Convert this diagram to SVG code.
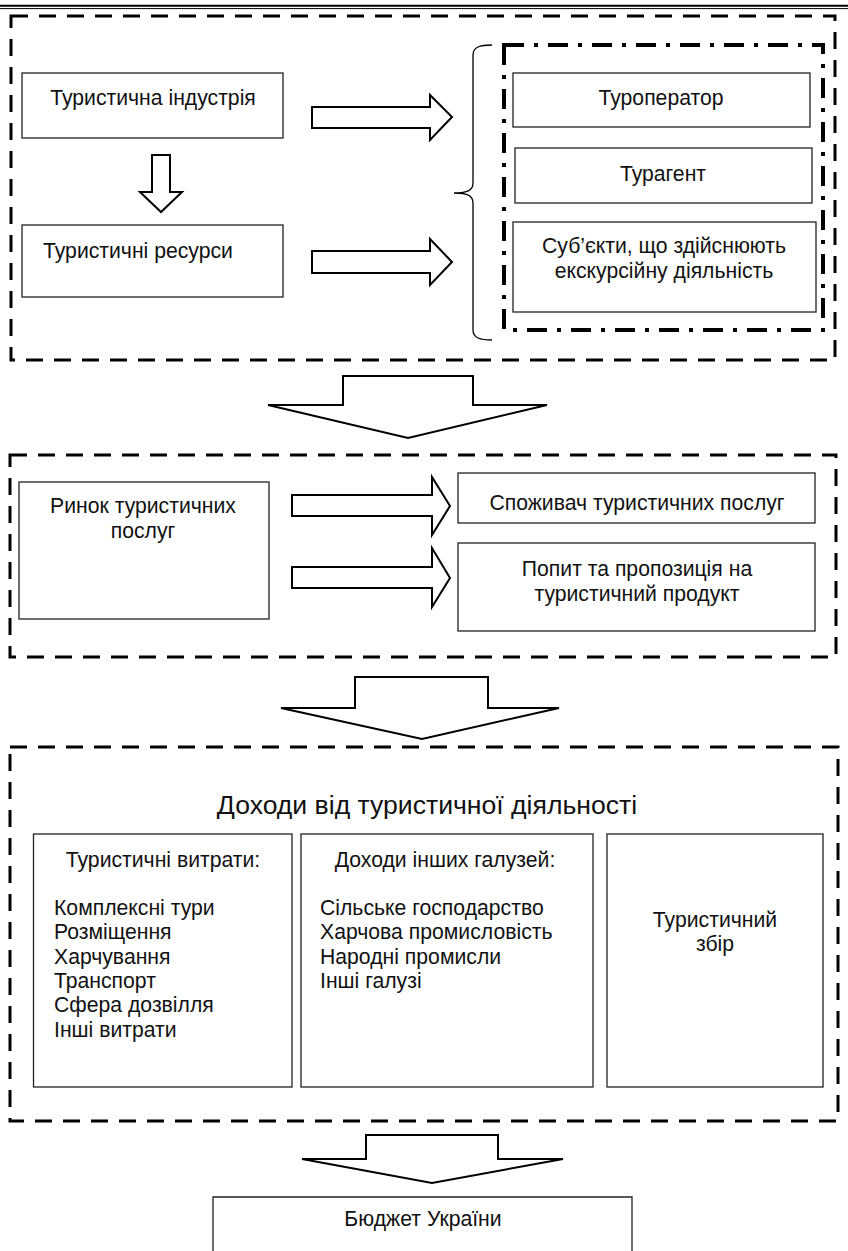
<svg xmlns="http://www.w3.org/2000/svg" width="848" height="1251" viewBox="0 0 848 1251">
  <defs>
    <style>
      .bg { fill: #ffffff; }
      .box { fill: #ffffff; stroke: #222222; stroke-width: 1.3; }
      .frame { fill: none; stroke: #000000; stroke-width: 3; stroke-dasharray: 17 11; }
      .dashdot { fill: none; stroke: #000000; stroke-width: 4; stroke-dasharray: 20 10 4 10; }
      .arrow { fill: #ffffff; stroke: #000000; stroke-width: 2; stroke-linejoin: miter; }
      .brace { fill: none; stroke: #000000; stroke-width: 1.3; }
      .rule { stroke: #000000; }
      text { font-family: "Liberation Sans", Arial, sans-serif; fill: #111111; font-size: 21.2px; }
      .c { text-anchor: middle; }
      .title { font-size: 26.6px; }
    </style>
  </defs>

  <rect class="bg" x="0" y="0" width="848" height="1251"/>

  <!-- page header rule -->
  <g id="header">
    <line class="rule" x1="0" y1="5.7" x2="848" y2="5.7" stroke-width="2"/>
    <line class="rule" x1="0" y1="8.6" x2="848" y2="8.6" stroke-width="1"/>
  </g>

  <!-- group frames -->
  <g id="frames">
    <rect class="frame" x="11" y="16" width="824" height="344"/>
    <rect class="frame" x="10" y="455" width="826" height="202"/>
    <rect class="frame" x="10" y="747" width="828" height="374"/>
  </g>

  <!-- block 1: industry and resources -->
  <g id="industry">
    <rect class="box" x="22" y="73" width="261" height="65"/>
    <text class="c" x="153" y="105">Туристична індустрія</text>
  </g>
  <g id="resources">
    <rect class="box" x="22" y="225" width="261" height="72"/>
    <text x="43" y="258">Туристичні ресурси</text>
  </g>

  <g id="actors">
    <rect class="dashdot" x="504" y="45" width="319" height="285"/>
    <path class="brace" d="M492,45 C480,45 473,47 473,55 L473,183 C473,190 468,193 454,193 C468,193 473,196 473,203 L473,330 C473,338 480,340 492,340"/>
  </g>
  <g id="touroperator">
    <rect class="box" x="513" y="73" width="297" height="54"/>
    <text class="c" x="661" y="105">Туроператор</text>
  </g>
  <g id="travelagent">
    <rect class="box" x="515" y="148" width="297" height="55"/>
    <text class="c" x="663" y="181">Турагент</text>
  </g>
  <g id="excursion">
    <rect class="box" x="513" y="222" width="303" height="90"/>
    <text class="c" x="664" y="253">Суб’єкти, що здійснюють</text>
    <text class="c" x="664" y="278">екскурсійну діяльність</text>
  </g>

  <!-- block 2: market -->
  <g id="market">
    <rect class="box" x="19" y="482" width="250" height="137"/>
    <text class="c" x="143" y="513">Ринок туристичних</text>
    <text class="c" x="143" y="538">послуг</text>
  </g>
  <g id="consumer">
    <rect class="box" x="458" y="473" width="357" height="50"/>
    <text class="c" x="637" y="510">Споживач туристичних послуг</text>
  </g>
  <g id="demand">
    <rect class="box" x="458" y="543" width="357" height="88"/>
    <text class="c" x="637" y="576">Попит та пропозиція на</text>
    <text class="c" x="637" y="601">туристичний продукт</text>
  </g>

  <!-- block 3: income -->
  <g id="income">
    <text class="c title" x="427" y="814">Доходи від туристичної діяльності</text>
  </g>
  <g id="expenses">
    <rect class="box" x="33.5" y="834" width="258.5" height="253"/>
    <text class="c" x="163" y="867">Туристичні витрати:</text>
    <text x="54" y="915">Комплексні тури</text>
    <text x="54" y="939">Розміщення</text>
    <text x="54" y="964">Харчування</text>
    <text x="54" y="988">Транспорт</text>
    <text x="54" y="1012">Сфера дозвілля</text>
    <text x="54" y="1037">Інші витрати</text>
  </g>
  <g id="otherbranches">
    <rect class="box" x="301" y="834" width="292" height="253"/>
    <text class="c" x="445" y="867">Доходи інших галузей:</text>
    <text x="320" y="915">Сільське господарство</text>
    <text x="320" y="939">Харчова промисловість</text>
    <text x="320" y="964">Народні промисли</text>
    <text x="320" y="988">Інші галузі</text>
  </g>
  <g id="levy">
    <rect class="box" x="607" y="834" width="216" height="253"/>
    <text class="c" x="715" y="927">Туристичний</text>
    <text class="c" x="715" y="951">збір</text>
  </g>

  <!-- budget -->
  <g id="budget">
    <path class="box" d="M213,1251 L213,1197 L632,1197 L632,1251"/>
    <text class="c" x="423" y="1226">Бюджет України</text>
  </g>

  <!-- block arrows -->
  <g id="connectors">
    <path class="arrow" d="M152,155 L170,155 L170,192 L182,192 L161,212 L140,192 L152,192 Z"/>
    <path class="arrow" d="M312,107 L430,107 L430,95 L452,117 L430,140 L430,128 L312,128 Z"/>
    <path class="arrow" d="M312,251 L430,251 L430,239 L452,262 L430,285 L430,273 L312,273 Z"/>
    <path class="arrow" d="M343,376 L473,376 L473,405 L547,405 L408,438 L268,405 L343,405 Z"/>
    <path class="arrow" d="M292,495 L432,495 L432,477 L450,506 L432,535 L432,516 L292,516 Z"/>
    <path class="arrow" d="M292,567 L432,567 L432,548 L450,578 L432,607 L432,588 L292,588 Z"/>
    <path class="arrow" d="M355,677 L488,677 L488,708 L559,708 L422,739 L281,708 L355,708 Z"/>
    <path class="arrow" d="M366,1135 L498,1135 L498,1159 L563,1159 L432,1183 L302,1159 L366,1159 Z"/>
  </g>
</svg>
